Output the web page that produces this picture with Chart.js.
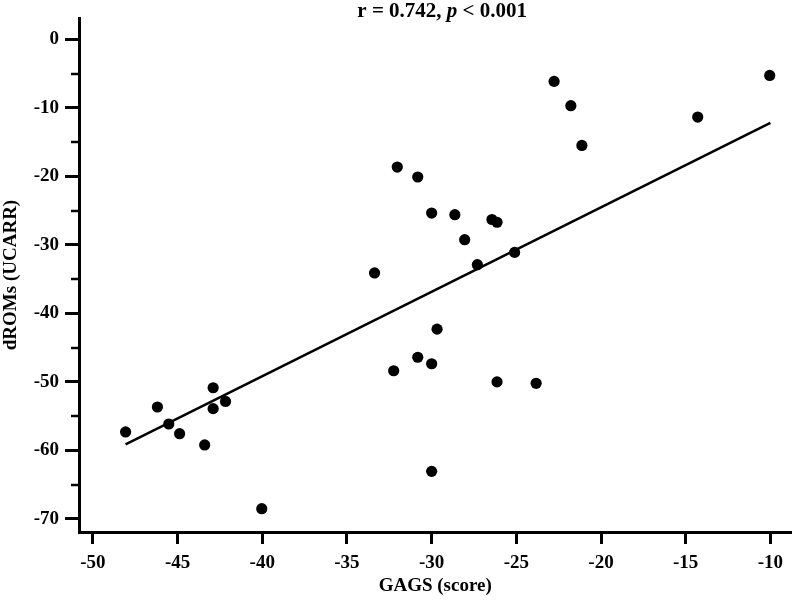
<!DOCTYPE html>
<html><head><meta charset="utf-8">
<script src="https://cdn.jsdelivr.net/npm/chart.js@4/dist/chart.umd.min.js"></script>
<style>html,body{margin:0;padding:0;background:#fff}</style>
</head><body>
<canvas id="c" width="797" height="601"></canvas>
<script>
// ---- data ----
const gagsScore = [-48.07, -46.19, -45.52, -44.88, -43.4, -42.9, -42.9, -42.17, -40.03,
  -33.37, -32.24, -32.03, -30.82, -30.82, -30.0, -30.0, -30.0, -29.68, -28.63, -28.05,
  -27.3, -26.44, -26.14, -26.14, -25.1, -23.83, -22.77, -21.78, -21.13, -14.29, -10.04];
const dromsValue = [-57.3, -53.66, -56.14, -57.56, -59.2, -50.85, -53.9, -52.85, -68.5,
  -34.1, -48.37, -18.65, -20.1, -46.4, -25.36, -47.35, -63.05, -42.3, -25.6, -29.25,
  -32.9, -26.3, -26.7, -50.0, -31.1, -50.2, -6.15, -9.7, -15.5, -11.35, -5.28];
const fitX = [-48.07, -10.0];
const fitY = [-59.1, -12.2];
const xTickValues = [-50, -45, -40, -35, -30, -25, -20, -15, -10];
const yTickValues = [0, -10, -20, -30, -40, -50, -60, -70];
const yMinorTicks = [-5, -15, -25, -35, -45, -55, -65];
const xTitle = 'GAGS (score)';
const yTitle = 'dROMs (UCARR)';
const titleParts = [['r = 0.742, ', false], ['p', true], [' < 0.001', false]];

const FAMILY = '"Liberation Serif", "Times New Roman", serif';
const font19 = {family: FAMILY, size: 19, weight: 'bold'};

const points = gagsScore.map((x, i) => ({x: x, y: dromsValue[i]}));
const fitLine = fitX.map((x, i) => ({x: x, y: fitY[i]}));

const extras = {
  id: 'extras',
  afterDraw(chart) {
    const ctx = chart.ctx;
    const ys = chart.scales.y;
    const ca = chart.chartArea;
    ctx.save();
    // minor ticks on y axis
    ctx.strokeStyle = '#000';
    ctx.lineWidth = 2.5;
    yMinorTicks.forEach(v => {
      const py = Math.round(ys.getPixelForValue(v));
      ctx.beginPath();
      ctx.moveTo(ca.left - 8, py);
      ctx.lineTo(ca.left, py);
      ctx.stroke();
    });
    // title with italic p
    ctx.fillStyle = '#000';
    ctx.textBaseline = 'alphabetic';
    let total = 0;
    const fonts = titleParts.map(p => (p[1] ? 'italic ' : '') + 'bold 21px ' + FAMILY);
    titleParts.forEach((p, i) => { ctx.font = fonts[i]; total += ctx.measureText(p[0]).width; });
    let x = (ca.left + ca.right) / 2 + 7 - total / 2;
    titleParts.forEach((p, i) => {
      ctx.font = fonts[i];
      ctx.fillText(p[0], x, 17);
      x += ctx.measureText(p[0]).width;
    });
    ctx.restore();
  }
};

new Chart(document.getElementById('c'), {
  type: 'scatter',
  data: {
    datasets: [
      {
        data: points,
        backgroundColor: '#000',
        borderColor: '#000',
        borderWidth: 0,
        pointRadius: 5.6,
        pointHoverRadius: 5.6
      },
      {
        type: 'line',
        data: fitLine,
        borderColor: '#000',
        borderWidth: 2.5,
        pointRadius: 0,
        fill: false,
        tension: 0
      }
    ]
  },
  options: {
    responsive: false,
    animation: false,
    layout: {padding: {top: 18, right: 4, left: 0, bottom: 0}},
    plugins: {legend: {display: false}, tooltip: {enabled: false}, title: {display: false}},
    scales: {
      x: {
        type: 'linear',
        position: 'bottom',
        min: -50.82,
        max: -8.76,
        afterBuildTicks: s => { s.ticks = xTickValues.map(v => ({value: v})); },
        afterFit: s => { s.height = 69; },
        ticks: {font: font19, color: '#000', padding: 8, maxRotation: 0, autoSkip: false},
        grid: {drawOnChartArea: false, drawTicks: true, tickLength: 12, tickWidth: 3, tickColor: '#000'},
        border: {display: true, width: 3, color: '#000'},
        title: {display: true, text: xTitle, font: font19, color: '#000', padding: {top: 0, bottom: 4}}
      },
      y: {
        type: 'linear',
        position: 'left',
        min: -71.9,
        max: 3.1,
        afterBuildTicks: s => { s.ticks = yTickValues.map(v => ({value: v})); },
        afterFit: s => { s.width = 79; },
        ticks: {font: font19, color: '#000', padding: 6, autoSkip: false},
        grid: {drawOnChartArea: false, drawTicks: true, tickLength: 14, tickWidth: 3, tickColor: '#000'},
        border: {display: true, width: 3, color: '#000'},
        title: {display: true, text: yTitle, font: font19, color: '#000', padding: {top: 0, bottom: 0}}
      }
    }
  },
  plugins: [extras]
});
</script>
</body></html>
